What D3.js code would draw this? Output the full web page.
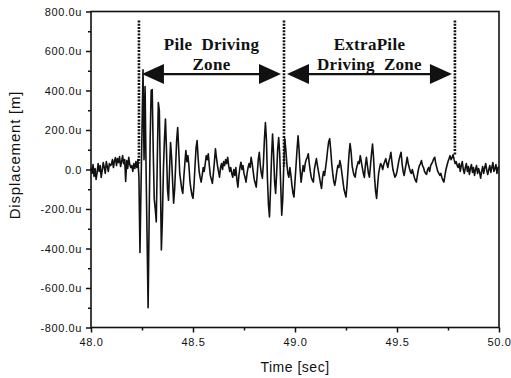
<!DOCTYPE html>
<html>
<head>
<meta charset="utf-8">
<script src="https://cdn.jsdelivr.net/npm/d3@7"></script>
<style>
  body { margin: 0; background: #fff; }
  .tick text { font-family: "Liberation Sans", Arial, sans-serif; font-size: 11px; letter-spacing: 0.6px; fill: #111; }
  .tick line { stroke: #111; stroke-width: 1.5; }
  .title { font-family: "Liberation Sans", Arial, sans-serif; fill: #111; }
  .note { font-family: "Liberation Serif", "Times New Roman", serif; font-weight: bold; font-size: 17px; letter-spacing: 0.3px; fill: #111; white-space: pre; }
</style>
</head>
<body>
<div id="chart"></div>
<script>
// axis ticks
const xTicks = [48.0, 48.5, 49.0, 49.5, 50.0];
const xMinor = [48.25, 48.75, 49.25, 49.75];
const yTicks = [-800, -600, -400, -200, 0, 200, 400, 600, 800];
const yMinor = [-700, -500, -300, -100, 100, 300, 500, 700];

// displacement samples (micro-metres), one every 5 ms starting at 48.000 s
const sampleStart = 48.0;
const sampleStep = 0.005;
const disp = [
  10, -20, 25, -35, 5, -50, -15, 30, -10, 20, -40, -5, 35, 10, -20, 40, 15, -10, 30, 20,
  25, 50, 10, 45, 60, 20, 55, 35, 65, 15, 40, 70, 30, 50, -60, 45, 5, 62, 25, 10,
  20, -10, 30, 5, 40, 10, 50, -40, -420, -100, 200, 505, 50, 420, 0, -350, -700, -250, 150, 400,
  405, 100, -150, -200, -265, 50, 339, 300, -50, -407, -250, 0, 150, 256, 100, -100, -156, 0, 137, 60,
  -60, -171, -100, 20, 150, 213, 100, -20, -60, -100, -121, -40, 30, 96, 40, 70, 20, -60, -100, -130,
  -146, -80, 20, 110, 146, 60, -10, -40, -64, -30, 10, -10, 30, 70, 50, 80, 20, -30, -50, -70,
  -20, 40, 105, 60, 20, -10, -39, 10, 30, 0, 40, 20, 50, 30, 62, 20, -10, 10, -20, -39,
  0, -30, 10, -50, -89, -30, 10, 37, 0, 20, -20, -40, -64, -20, 10, 30, 10, 62, 30, -10,
  -50, -70, -89, -20, 50, 87, 20, -20, -44, 30, 150, 238, 150, -50, -180, -240, -100, 60, 179, 80,
  -60, -121, -20, 100, 162, 80, -80, -231, -150, 20, 156, 100, 30, -20, -39, 10, -30, -80, -120, -139,
  -60, 20, 100, 171, 100, 0, -64, -20, 20, -10, 30, 50, 60, 80, 30, -10, -40, -55, -64, 0,
  30, 55, 20, -10, -40, -70, -96, -40, -10, -30, 10, 50, 100, 140, 156, 100, 30, -20, -60, -80,
  -50, -10, 20, 10, 45, 20, -20, -60, -100, -120, -139, -80, 0, 80, 131, 90, 20, -10, -30, -39,
  0, 20, 40, 30, 70, 40, 10, -20, -40, 20, 62, 20, -20, -39, 20, 80, 129, 60, -40, -110,
  -146, -80, -20, 10, 30, 20, 0, 25, 40, 55, 30, 10, 40, 60, 87, 40, 0, -20, -39, -30,
  -10, 20, 50, 70, 87, 30, -10, -30, 0, 30, 62, 30, 10, -10, -20, 0, -20, -40, -55, -64,
  -30, 0, 20, 30, 45, 20, 10, -10, -20, -25, 0, 10, -10, 20, 30, 40, 55, 62, 30, 10,
  -10, -20, -30, -20, -40, -55, -64, -30, 0, 20, 40, 55, 70, 50, 60, 75, 50, 30, 40, 20,
  10, 30, -10, 20, 40, 0, -20, 10, 30, -10, 15, -25, 5, 25, -15, 10, -30, 0, 20, -20,
  5, -15, -44, -10, 15, -20, 10, 30, -5, -25, 0, 20, -15, 10, 35, -10, 5, 25, -20, 10,
  15
];

// zone boundaries (sec) and where each dotted marker stops (u)
const zoneEdges = [48.235, 48.946, 49.784];
const edgeBottoms = [30, 15, 70];
const edgeTop = 755;
const arrowLevel = 483;
const zoneLabels = [
  { lines: ["Pile  Driving", "Zone"], from: 48.235, to: 48.946 },
  { lines: ["ExtraPile", "Driving  Zone"], from: 48.946, to: 49.784 }
];
const labelLevels = [603, 505];

const width = 511, height = 378;
const marginLeft = 91, marginRight = 12, marginTop = 11.5, marginBottom = 50.5;

const svg = d3.select("#chart")
  .append("svg")
    .attr("width", width)
    .attr("height", height);

const x = d3.scaleLinear()
  .domain([48, 50])
  .range([marginLeft, width - marginRight]);
const y = d3.scaleLinear()
  .domain([-800, 800])
  .range([height - marginBottom, marginTop]);

// signal
const line = d3.line()
  .x((d, i) => x(sampleStart + i * sampleStep))
  .y(d => y(d));
svg.append("path")
  .datum(disp)
  .attr("fill", "none")
  .attr("stroke", "#111")
  .attr("stroke-width", 1.6)
  .attr("stroke-linejoin", "round")
  .attr("d", line);

// dotted zone markers
svg.append("g")
  .selectAll("line")
  .data(zoneEdges)
  .enter().append("line")
    .attr("x1", d => x(d))
    .attr("x2", d => x(d))
    .attr("y1", y(edgeTop))
    .attr("y2", (d, i) => y(edgeBottoms[i]))
    .attr("stroke", "#111")
    .attr("stroke-width", 2.6)
    .attr("stroke-dasharray", "2,1.3");

// double arrows
const head = 22, half = 10;
zoneLabels.forEach(z => {
  const x0 = x(z.from) + 3, x1 = x(z.to) - 3, yy = y(arrowLevel);
  svg.append("line")
    .attr("x1", x0 + head - 2).attr("x2", x1 - head + 2)
    .attr("y1", yy).attr("y2", yy)
    .attr("stroke", "#111").attr("stroke-width", 2.2);
  svg.append("path")
    .attr("d", `M${x0},${yy}L${x0 + head},${yy - half}L${x0 + head},${yy + half}Z`)
    .attr("fill", "#111");
  svg.append("path")
    .attr("d", `M${x1},${yy}L${x1 - head},${yy - half}L${x1 - head},${yy + half}Z`)
    .attr("fill", "#111");
  z.lines.forEach((t, j) => {
    svg.append("text")
      .attr("class", "note")
      .attr("text-anchor", "middle")
      .attr("x", x((z.from + z.to) / 2))
      .attr("y", y(labelLevels[j]))
      .text(t);
  });
});

// axes
const fmtY = d => d === 0 ? "0.0" : d.toFixed(1) + "u";
svg.append("g")
  .attr("transform", "translate(" + marginLeft + ",0)")
  .call(d3.axisLeft(y).tickValues(yTicks).tickSize(5).tickPadding(4).tickFormat(fmtY))
  .call(g => g.select(".domain").remove());
svg.append("g")
  .attr("transform", "translate(" + marginLeft + ",0)")
  .call(d3.axisLeft(y).tickValues(yMinor).tickSize(3).tickFormat(""))
  .call(g => g.select(".domain").remove());
svg.append("g")
  .attr("transform", "translate(0," + (height - marginBottom) + ")")
  .call(d3.axisBottom(x).tickValues(xTicks).tickSize(5).tickPadding(6).tickFormat(d3.format(".1f")))
  .call(g => g.select(".domain").remove());
svg.append("g")
  .attr("transform", "translate(0," + (height - marginBottom) + ")")
  .call(d3.axisBottom(x).tickValues(xMinor).tickSize(3).tickFormat(""))
  .call(g => g.select(".domain").remove());

// frame
svg.append("rect")
  .attr("x", marginLeft)
  .attr("y", marginTop)
  .attr("width", width - marginLeft - marginRight)
  .attr("height", height - marginTop - marginBottom)
  .attr("fill", "none")
  .attr("stroke", "#111")
  .attr("stroke-width", 1.6);

// titles
svg.append("text")
  .attr("class", "title")
  .attr("text-anchor", "middle")
  .attr("x", (marginLeft + width - marginRight) / 2)
  .attr("y", 372)
  .style("font-size", "14px")
  .style("letter-spacing", "0.5px")
  .text("Time [sec]");
svg.append("text")
  .attr("class", "title")
  .attr("text-anchor", "middle")
  .attr("transform", "translate(20,155) rotate(-90)")
  .style("font-size", "15px")
  .style("letter-spacing", "0.8px")
  .text("Displacement [m]");
</script>
</body>
</html>
